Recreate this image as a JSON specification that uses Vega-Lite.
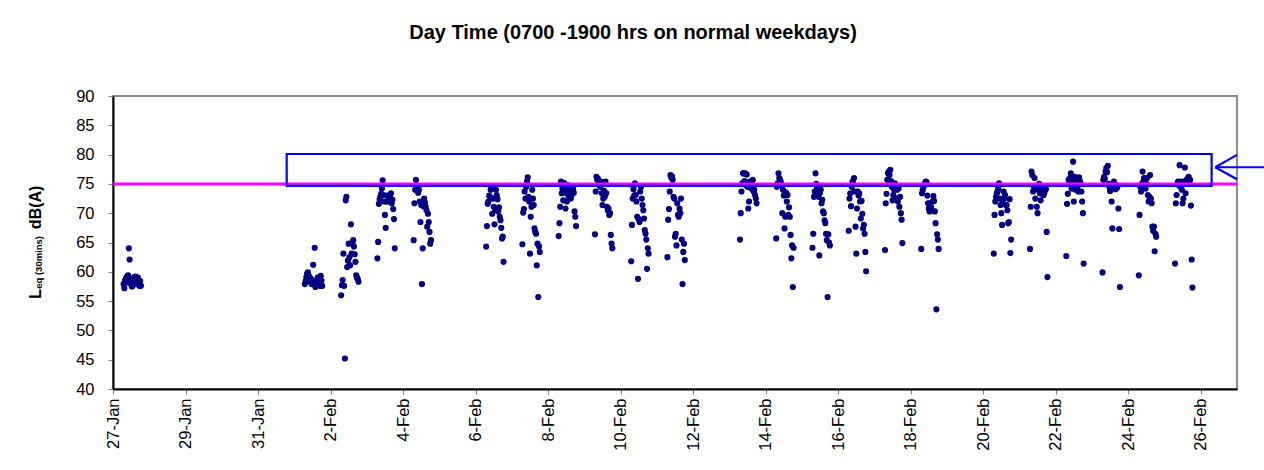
{
 "$schema": "https://vega.github.io/schema/vega-lite/v6.json",
 "width": 1124,
 "height": 293,
 "autosize": {"type": "none"},
 "padding": {"left": 113, "top": 96, "right": 27, "bottom": 81},
 "background": "white",
 "title": {"text": "Day Time (0700 -1900 hrs on normal weekdays)", "font": "Liberation Sans", "fontSize": 20, "fontWeight": "bold", "color": "black", "anchor": "middle", "dx": -42, "offset": 45},
 "config": {"view": {"stroke": "#8c8c8c", "strokeWidth": 2}, "font": "Liberation Sans"},
 "datasets": {
  "leq": [
{"t":"2006-01-27T07:00","v":57.9},{"t":"2006-01-27T07:30","v":57.2},{"t":"2006-01-27T08:00","v":58.5},{"t":"2006-01-27T08:30","v":58.8},{"t":"2006-01-27T09:00","v":59.1},{"t":"2006-01-27T09:30","v":58.2},{"t":"2006-01-27T10:00","v":59.4},{"t":"2006-01-27T10:30","v":64.0},{"t":"2006-01-27T11:00","v":62.1},{"t":"2006-01-27T11:30","v":58.0},{"t":"2006-01-27T12:00","v":58.7},{"t":"2006-01-27T12:30","v":57.5},{"t":"2006-01-27T13:00","v":57.6},{"t":"2006-01-27T13:30","v":58.3},{"t":"2006-01-27T14:00","v":59.1},{"t":"2006-01-27T14:30","v":58.0},{"t":"2006-01-27T15:00","v":59.2},{"t":"2006-01-27T15:30","v":57.9},{"t":"2006-01-27T16:00","v":58.5},{"t":"2006-01-27T16:30","v":59.0},{"t":"2006-01-27T17:00","v":58.1},{"t":"2006-01-27T17:30","v":57.6},{"t":"2006-01-27T18:00","v":58.4},{"t":"2006-01-27T18:30","v":57.6},
{"t":"2006-02-01T07:00","v":57.9},{"t":"2006-02-01T07:30","v":58.4},{"t":"2006-02-01T08:00","v":59.1},{"t":"2006-02-01T08:30","v":59.7},{"t":"2006-02-01T09:00","v":59.9},{"t":"2006-02-01T09:30","v":58.6},{"t":"2006-02-01T10:00","v":59.2},{"t":"2006-02-01T10:30","v":58.3},{"t":"2006-02-01T11:00","v":58.8},{"t":"2006-02-01T11:30","v":57.9},{"t":"2006-02-01T12:00","v":58.5},{"t":"2006-02-01T12:30","v":61.2},{"t":"2006-02-01T13:00","v":58.1},{"t":"2006-02-01T13:30","v":64.1},{"t":"2006-02-01T14:00","v":57.4},{"t":"2006-02-01T14:30","v":57.8},{"t":"2006-02-01T15:00","v":58.5},{"t":"2006-02-01T15:30","v":59.0},{"t":"2006-02-01T16:00","v":58.0},{"t":"2006-02-01T16:30","v":58.4},{"t":"2006-02-01T17:00","v":57.6},{"t":"2006-02-01T17:30","v":59.3},{"t":"2006-02-01T18:00","v":58.5},{"t":"2006-02-01T18:30","v":57.6},
{"t":"2006-02-02T07:00","v":56.0},{"t":"2006-02-02T07:30","v":57.7},{"t":"2006-02-02T08:00","v":58.6},{"t":"2006-02-02T08:30","v":63.1},{"t":"2006-02-02T09:00","v":57.6},{"t":"2006-02-02T09:30","v":45.2},{"t":"2006-02-02T10:00","v":72.2},{"t":"2006-02-02T10:30","v":72.8},{"t":"2006-02-02T11:00","v":60.8},{"t":"2006-02-02T11:30","v":61.9},{"t":"2006-02-02T12:00","v":64.8},{"t":"2006-02-02T12:30","v":62.5},{"t":"2006-02-02T13:00","v":61.1},{"t":"2006-02-02T13:30","v":68.1},{"t":"2006-02-02T14:00","v":63.1},{"t":"2006-02-02T14:30","v":64.8},{"t":"2006-02-02T15:00","v":65.4},{"t":"2006-02-02T15:30","v":64.3},{"t":"2006-02-02T16:00","v":63.0},{"t":"2006-02-02T16:30","v":61.7},{"t":"2006-02-02T17:00","v":59.4},{"t":"2006-02-02T17:30","v":59.0},{"t":"2006-02-02T18:00","v":58.8},{"t":"2006-02-02T18:30","v":58.3},
{"t":"2006-02-03T07:00","v":62.3},{"t":"2006-02-03T07:30","v":65.1},{"t":"2006-02-03T08:00","v":71.6},{"t":"2006-02-03T08:30","v":72.4},{"t":"2006-02-03T09:00","v":72.8},{"t":"2006-02-03T09:30","v":73.3},{"t":"2006-02-03T10:00","v":74.2},{"t":"2006-02-03T10:30","v":75.6},{"t":"2006-02-03T11:00","v":73.1},{"t":"2006-02-03T11:30","v":72.0},{"t":"2006-02-03T12:00","v":69.7},{"t":"2006-02-03T12:30","v":67.5},{"t":"2006-02-03T13:00","v":72.0},{"t":"2006-02-03T13:30","v":73.0},{"t":"2006-02-03T14:00","v":72.0},{"t":"2006-02-03T14:30","v":73.0},{"t":"2006-02-03T15:00","v":72.5},{"t":"2006-02-03T15:30","v":72.8},{"t":"2006-02-03T16:00","v":73.4},{"t":"2006-02-03T16:30","v":71.7},{"t":"2006-02-03T17:00","v":72.3},{"t":"2006-02-03T17:30","v":70.7},{"t":"2006-02-03T18:00","v":69.0},{"t":"2006-02-03T18:30","v":64.0},
{"t":"2006-02-04T07:00","v":65.4},{"t":"2006-02-04T07:30","v":71.7},{"t":"2006-02-04T08:00","v":74.0},{"t":"2006-02-04T08:30","v":75.7},{"t":"2006-02-04T09:00","v":74.8},{"t":"2006-02-04T09:30","v":74.2},{"t":"2006-02-04T10:00","v":73.5},{"t":"2006-02-04T10:30","v":74.0},{"t":"2006-02-04T11:00","v":72.0},{"t":"2006-02-04T11:30","v":68.5},{"t":"2006-02-04T12:00","v":71.4},{"t":"2006-02-04T12:30","v":57.9},{"t":"2006-02-04T13:00","v":64.0},{"t":"2006-02-04T13:30","v":71.2},{"t":"2006-02-04T14:00","v":72.5},{"t":"2006-02-04T14:30","v":71.8},{"t":"2006-02-04T15:00","v":71.1},{"t":"2006-02-04T15:30","v":70.5},{"t":"2006-02-04T16:00","v":67.7},{"t":"2006-02-04T16:30","v":69.9},{"t":"2006-02-04T17:00","v":68.5},{"t":"2006-02-04T17:30","v":66.8},{"t":"2006-02-04T18:00","v":64.8},{"t":"2006-02-04T18:30","v":65.4},
{"t":"2006-02-06T07:00","v":64.3},{"t":"2006-02-06T07:30","v":67.8},{"t":"2006-02-06T08:00","v":71.6},{"t":"2006-02-06T08:30","v":72.0},{"t":"2006-02-06T09:00","v":73.0},{"t":"2006-02-06T09:30","v":72.8},{"t":"2006-02-06T10:00","v":74.0},{"t":"2006-02-06T10:30","v":74.2},{"t":"2006-02-06T11:00","v":69.9},{"t":"2006-02-06T11:30","v":72.5},{"t":"2006-02-06T12:00","v":71.1},{"t":"2006-02-06T12:30","v":68.1},{"t":"2006-02-06T13:00","v":70.5},{"t":"2006-02-06T13:30","v":74.0},{"t":"2006-02-06T14:00","v":73.1},{"t":"2006-02-06T14:30","v":72.4},{"t":"2006-02-06T15:00","v":70.3},{"t":"2006-02-06T15:30","v":71.0},{"t":"2006-02-06T16:00","v":69.4},{"t":"2006-02-06T16:30","v":68.8},{"t":"2006-02-06T17:00","v":67.5},{"t":"2006-02-06T17:30","v":65.7},{"t":"2006-02-06T18:00","v":66.0},{"t":"2006-02-06T18:30","v":61.7},
{"t":"2006-02-07T07:00","v":64.7},{"t":"2006-02-07T07:30","v":70.1},{"t":"2006-02-07T08:00","v":70.7},{"t":"2006-02-07T08:30","v":73.7},{"t":"2006-02-07T09:00","v":72.5},{"t":"2006-02-07T09:30","v":74.5},{"t":"2006-02-07T10:00","v":75.4},{"t":"2006-02-07T10:30","v":76.1},{"t":"2006-02-07T11:00","v":72.8},{"t":"2006-02-07T11:30","v":72.0},{"t":"2006-02-07T12:00","v":63.1},{"t":"2006-02-07T12:30","v":69.4},{"t":"2006-02-07T13:00","v":71.1},{"t":"2006-02-07T13:30","v":74.0},{"t":"2006-02-07T14:00","v":72.5},{"t":"2006-02-07T14:30","v":71.4},{"t":"2006-02-07T15:00","v":67.4},{"t":"2006-02-07T15:30","v":66.8},{"t":"2006-02-07T16:00","v":66.5},{"t":"2006-02-07T16:30","v":61.1},{"t":"2006-02-07T17:00","v":64.8},{"t":"2006-02-07T17:30","v":55.7},{"t":"2006-02-07T18:00","v":64.3},{"t":"2006-02-07T18:30","v":63.4},
{"t":"2006-02-08T07:00","v":66.1},{"t":"2006-02-08T07:30","v":68.3},{"t":"2006-02-08T08:00","v":71.1},{"t":"2006-02-08T08:30","v":75.4},{"t":"2006-02-08T09:00","v":73.4},{"t":"2006-02-08T09:30","v":74.2},{"t":"2006-02-08T10:00","v":72.2},{"t":"2006-02-08T10:30","v":75.2},{"t":"2006-02-08T11:00","v":73.5},{"t":"2006-02-08T11:30","v":70.8},{"t":"2006-02-08T12:00","v":74.0},{"t":"2006-02-08T12:30","v":72.0},{"t":"2006-02-08T13:00","v":74.8},{"t":"2006-02-08T13:30","v":72.8},{"t":"2006-02-08T14:00","v":73.8},{"t":"2006-02-08T14:30","v":73.4},{"t":"2006-02-08T15:00","v":72.5},{"t":"2006-02-08T15:30","v":73.0},{"t":"2006-02-08T16:00","v":74.0},{"t":"2006-02-08T16:30","v":74.2},{"t":"2006-02-08T17:00","v":73.5},{"t":"2006-02-08T17:30","v":70.3},{"t":"2006-02-08T18:00","v":69.4},{"t":"2006-02-08T18:30","v":67.8},
{"t":"2006-02-09T07:00","v":66.4},{"t":"2006-02-09T07:30","v":73.7},{"t":"2006-02-09T08:00","v":76.2},{"t":"2006-02-09T08:30","v":75.7},{"t":"2006-02-09T09:00","v":75.9},{"t":"2006-02-09T09:30","v":75.1},{"t":"2006-02-09T10:00","v":74.8},{"t":"2006-02-09T10:30","v":74.5},{"t":"2006-02-09T11:00","v":75.4},{"t":"2006-02-09T11:30","v":73.4},{"t":"2006-02-09T12:00","v":71.4},{"t":"2006-02-09T12:30","v":72.5},{"t":"2006-02-09T13:00","v":73.8},{"t":"2006-02-09T13:30","v":72.8},{"t":"2006-02-09T14:00","v":75.4},{"t":"2006-02-09T14:30","v":73.4},{"t":"2006-02-09T15:00","v":71.1},{"t":"2006-02-09T15:30","v":70.5},{"t":"2006-02-09T16:00","v":70.8},{"t":"2006-02-09T16:30","v":69.7},{"t":"2006-02-09T17:00","v":70.0},{"t":"2006-02-09T17:30","v":66.3},{"t":"2006-02-09T18:00","v":64.8},{"t":"2006-02-09T18:30","v":64.0},
{"t":"2006-02-10T07:00","v":61.8},{"t":"2006-02-10T07:30","v":68.0},{"t":"2006-02-10T08:00","v":72.5},{"t":"2006-02-10T08:30","v":74.1},{"t":"2006-02-10T09:00","v":73.0},{"t":"2006-02-10T09:30","v":75.1},{"t":"2006-02-10T10:00","v":73.1},{"t":"2006-02-10T10:30","v":72.0},{"t":"2006-02-10T11:00","v":69.4},{"t":"2006-02-10T11:30","v":58.8},{"t":"2006-02-10T12:00","v":69.0},{"t":"2006-02-10T12:30","v":68.5},{"t":"2006-02-10T13:00","v":73.7},{"t":"2006-02-10T13:30","v":74.5},{"t":"2006-02-10T14:00","v":72.5},{"t":"2006-02-10T14:30","v":71.4},{"t":"2006-02-10T15:00","v":70.5},{"t":"2006-02-10T15:30","v":69.1},{"t":"2006-02-10T16:00","v":67.1},{"t":"2006-02-10T16:30","v":66.5},{"t":"2006-02-10T17:00","v":65.5},{"t":"2006-02-10T17:30","v":60.5},{"t":"2006-02-10T18:00","v":64.0},{"t":"2006-02-10T18:30","v":63.1},
{"t":"2006-02-11T07:00","v":62.5},{"t":"2006-02-11T07:30","v":68.9},{"t":"2006-02-11T08:00","v":70.7},{"t":"2006-02-11T08:30","v":73.7},{"t":"2006-02-11T09:00","v":76.5},{"t":"2006-02-11T09:30","v":76.1},{"t":"2006-02-11T10:00","v":76.3},{"t":"2006-02-11T10:30","v":75.7},{"t":"2006-02-11T11:00","v":72.8},{"t":"2006-02-11T11:30","v":72.5},{"t":"2006-02-11T12:00","v":66.0},{"t":"2006-02-11T12:30","v":66.5},{"t":"2006-02-11T13:00","v":64.5},{"t":"2006-02-11T13:30","v":71.7},{"t":"2006-02-11T14:00","v":69.7},{"t":"2006-02-11T14:30","v":69.4},{"t":"2006-02-11T15:00","v":70.8},{"t":"2006-02-11T15:30","v":70.0},{"t":"2006-02-11T16:00","v":72.5},{"t":"2006-02-11T16:30","v":65.5},{"t":"2006-02-11T17:00","v":57.9},{"t":"2006-02-11T17:30","v":63.4},{"t":"2006-02-11T18:00","v":64.8},{"t":"2006-02-11T18:30","v":62.0},
{"t":"2006-02-13T07:00","v":65.5},{"t":"2006-02-13T07:30","v":70.0},{"t":"2006-02-13T08:00","v":73.7},{"t":"2006-02-13T08:30","v":75.1},{"t":"2006-02-13T09:00","v":76.8},{"t":"2006-02-13T09:30","v":76.8},{"t":"2006-02-13T10:00","v":75.5},{"t":"2006-02-13T10:30","v":76.8},{"t":"2006-02-13T11:00","v":74.8},{"t":"2006-02-13T11:30","v":76.6},{"t":"2006-02-13T12:00","v":74.5},{"t":"2006-02-13T12:30","v":70.8},{"t":"2006-02-13T13:00","v":72.0},{"t":"2006-02-13T13:30","v":75.4},{"t":"2006-02-13T14:00","v":74.5},{"t":"2006-02-13T14:30","v":74.2},{"t":"2006-02-13T15:00","v":75.0},{"t":"2006-02-13T15:30","v":75.7},{"t":"2006-02-13T16:00","v":73.7},{"t":"2006-02-13T16:30","v":74.0},{"t":"2006-02-13T17:00","v":73.1},{"t":"2006-02-13T17:30","v":72.5},{"t":"2006-02-13T18:00","v":71.7},
{"t":"2006-02-14T07:00","v":65.7},{"t":"2006-02-14T07:30","v":74.5},{"t":"2006-02-14T08:00","v":75.1},{"t":"2006-02-14T08:30","v":76.8},{"t":"2006-02-14T09:00","v":76.0},{"t":"2006-02-14T09:30","v":75.7},{"t":"2006-02-14T10:00","v":75.4},{"t":"2006-02-14T10:30","v":74.8},{"t":"2006-02-14T11:00","v":70.0},{"t":"2006-02-14T11:30","v":74.0},{"t":"2006-02-14T12:00","v":73.0},{"t":"2006-02-14T12:30","v":67.4},{"t":"2006-02-14T13:00","v":69.4},{"t":"2006-02-14T13:30","v":73.5},{"t":"2006-02-14T14:00","v":72.0},{"t":"2006-02-14T14:30","v":73.1},{"t":"2006-02-14T15:00","v":69.7},{"t":"2006-02-14T15:30","v":71.0},{"t":"2006-02-14T16:00","v":69.4},{"t":"2006-02-14T16:30","v":66.3},{"t":"2006-02-14T17:00","v":62.3},{"t":"2006-02-14T17:30","v":64.5},{"t":"2006-02-14T18:00","v":57.4},{"t":"2006-02-14T18:30","v":64.1},
{"t":"2006-02-15T07:00","v":64.1},{"t":"2006-02-15T07:30","v":66.5},{"t":"2006-02-15T08:00","v":72.8},{"t":"2006-02-15T08:30","v":73.7},{"t":"2006-02-15T09:00","v":76.8},{"t":"2006-02-15T09:30","v":75.0},{"t":"2006-02-15T10:00","v":74.2},{"t":"2006-02-15T10:30","v":73.1},{"t":"2006-02-15T11:00","v":72.8},{"t":"2006-02-15T11:30","v":62.8},{"t":"2006-02-15T12:00","v":73.5},{"t":"2006-02-15T12:30","v":74.0},{"t":"2006-02-15T13:00","v":71.7},{"t":"2006-02-15T13:30","v":72.3},{"t":"2006-02-15T14:00","v":70.3},{"t":"2006-02-15T14:30","v":70.0},{"t":"2006-02-15T15:00","v":68.8},{"t":"2006-02-15T15:30","v":68.3},{"t":"2006-02-15T16:00","v":66.5},{"t":"2006-02-15T16:30","v":65.4},{"t":"2006-02-15T17:00","v":55.7},{"t":"2006-02-15T17:30","v":66.4},{"t":"2006-02-15T18:00","v":65.0},{"t":"2006-02-15T18:30","v":64.5},
{"t":"2006-02-16T07:00","v":67.0},{"t":"2006-02-16T07:30","v":72.5},{"t":"2006-02-16T08:00","v":73.4},{"t":"2006-02-16T08:30","v":71.2},{"t":"2006-02-16T09:00","v":74.5},{"t":"2006-02-16T09:30","v":75.4},{"t":"2006-02-16T10:00","v":75.0},{"t":"2006-02-16T10:30","v":76.0},{"t":"2006-02-16T11:00","v":73.7},{"t":"2006-02-16T11:30","v":67.7},{"t":"2006-02-16T12:00","v":63.1},{"t":"2006-02-16T12:30","v":70.8},{"t":"2006-02-16T13:00","v":73.7},{"t":"2006-02-16T13:30","v":73.0},{"t":"2006-02-16T14:00","v":73.4},{"t":"2006-02-16T14:30","v":72.0},{"t":"2006-02-16T15:00","v":69.1},{"t":"2006-02-16T15:30","v":72.1},{"t":"2006-02-16T16:00","v":69.9},{"t":"2006-02-16T16:30","v":67.4},{"t":"2006-02-16T17:00","v":68.0},{"t":"2006-02-16T17:30","v":66.5},{"t":"2006-02-16T18:00","v":63.4},{"t":"2006-02-16T18:30","v":60.1},
{"t":"2006-02-17T07:00","v":63.7},{"t":"2006-02-17T07:30","v":71.7},{"t":"2006-02-17T08:00","v":73.3},{"t":"2006-02-17T08:30","v":75.7},{"t":"2006-02-17T09:00","v":76.8},{"t":"2006-02-17T09:30","v":77.1},{"t":"2006-02-17T10:00","v":76.5},{"t":"2006-02-17T10:30","v":77.4},{"t":"2006-02-17T11:00","v":75.5},{"t":"2006-02-17T11:30","v":74.5},{"t":"2006-02-17T12:00","v":72.2},{"t":"2006-02-17T12:30","v":73.1},{"t":"2006-02-17T13:00","v":74.0},{"t":"2006-02-17T13:30","v":75.1},{"t":"2006-02-17T14:00","v":74.2},{"t":"2006-02-17T14:30","v":72.5},{"t":"2006-02-17T15:00","v":74.0},{"t":"2006-02-17T15:30","v":72.0},{"t":"2006-02-17T16:00","v":74.2},{"t":"2006-02-17T16:30","v":71.1},{"t":"2006-02-17T17:00","v":72.8},{"t":"2006-02-17T17:30","v":70.0},{"t":"2006-02-17T18:00","v":68.9},{"t":"2006-02-17T18:30","v":64.9},
{"t":"2006-02-18T07:00","v":63.9},{"t":"2006-02-18T07:30","v":73.4},{"t":"2006-02-18T08:00","v":74.0},{"t":"2006-02-18T08:30","v":74.5},{"t":"2006-02-18T09:00","v":74.8},{"t":"2006-02-18T09:30","v":75.1},{"t":"2006-02-18T10:00","v":75.4},{"t":"2006-02-18T10:30","v":75.3},{"t":"2006-02-18T11:00","v":73.0},{"t":"2006-02-18T11:30","v":71.7},{"t":"2006-02-18T12:00","v":70.8},{"t":"2006-02-18T12:30","v":70.3},{"t":"2006-02-18T13:00","v":71.7},{"t":"2006-02-18T13:30","v":71.0},{"t":"2006-02-18T14:00","v":70.5},{"t":"2006-02-18T14:30","v":72.0},{"t":"2006-02-18T15:00","v":72.9},{"t":"2006-02-18T15:30","v":72.1},{"t":"2006-02-18T16:00","v":70.3},{"t":"2006-02-18T16:30","v":68.3},{"t":"2006-02-18T17:00","v":53.6},{"t":"2006-02-18T17:30","v":66.4},{"t":"2006-02-18T18:00","v":65.5},{"t":"2006-02-18T18:30","v":63.9},
{"t":"2006-02-20T07:00","v":63.1},{"t":"2006-02-20T07:30","v":69.7},{"t":"2006-02-20T08:00","v":72.0},{"t":"2006-02-20T08:30","v":72.8},{"t":"2006-02-20T09:00","v":73.4},{"t":"2006-02-20T09:30","v":73.7},{"t":"2006-02-20T10:00","v":74.2},{"t":"2006-02-20T10:30","v":75.1},{"t":"2006-02-20T11:00","v":72.5},{"t":"2006-02-20T11:30","v":71.4},{"t":"2006-02-20T12:00","v":70.0},{"t":"2006-02-20T12:30","v":68.0},{"t":"2006-02-20T13:00","v":71.7},{"t":"2006-02-20T13:30","v":73.7},{"t":"2006-02-20T14:00","v":72.5},{"t":"2006-02-20T14:30","v":73.1},{"t":"2006-02-20T15:00","v":71.4},{"t":"2006-02-20T15:30","v":71.4},{"t":"2006-02-20T16:00","v":70.5},{"t":"2006-02-20T16:30","v":68.3},{"t":"2006-02-20T17:00","v":68.5},{"t":"2006-02-20T17:30","v":72.4},{"t":"2006-02-20T18:00","v":63.2},{"t":"2006-02-20T18:30","v":65.5},
{"t":"2006-02-21T07:00","v":63.9},{"t":"2006-02-21T07:30","v":71.1},{"t":"2006-02-21T08:00","v":77.1},{"t":"2006-02-21T08:30","v":76.5},{"t":"2006-02-21T09:00","v":73.7},{"t":"2006-02-21T09:30","v":74.5},{"t":"2006-02-21T10:00","v":76.0},{"t":"2006-02-21T10:30","v":72.5},{"t":"2006-02-21T11:00","v":74.6},{"t":"2006-02-21T11:30","v":71.1},{"t":"2006-02-21T12:00","v":70.0},{"t":"2006-02-21T12:30","v":74.0},{"t":"2006-02-21T13:00","v":75.0},{"t":"2006-02-21T13:30","v":73.4},{"t":"2006-02-21T14:00","v":72.2},{"t":"2006-02-21T14:30","v":73.4},{"t":"2006-02-21T15:00","v":74.5},{"t":"2006-02-21T15:30","v":74.2},{"t":"2006-02-21T16:00","v":73.1},{"t":"2006-02-21T16:30","v":73.5},{"t":"2006-02-21T17:00","v":74.0},{"t":"2006-02-21T17:30","v":74.1},{"t":"2006-02-21T18:00","v":66.8},{"t":"2006-02-21T18:30","v":59.1},
{"t":"2006-02-22T07:00","v":62.7},{"t":"2006-02-22T07:30","v":71.6},{"t":"2006-02-22T08:00","v":73.3},{"t":"2006-02-22T08:30","v":75.7},{"t":"2006-02-22T09:00","v":75.0},{"t":"2006-02-22T09:30","v":76.0},{"t":"2006-02-22T10:00","v":76.8},{"t":"2006-02-22T10:30","v":74.2},{"t":"2006-02-22T11:00","v":75.5},{"t":"2006-02-22T11:30","v":78.8},{"t":"2006-02-22T12:00","v":72.0},{"t":"2006-02-22T12:30","v":76.2},{"t":"2006-02-22T13:00","v":74.0},{"t":"2006-02-22T13:30","v":74.8},{"t":"2006-02-22T14:00","v":75.7},{"t":"2006-02-22T14:30","v":74.5},{"t":"2006-02-22T15:00","v":73.7},{"t":"2006-02-22T15:30","v":76.1},{"t":"2006-02-22T16:00","v":75.5},{"t":"2006-02-22T16:30","v":75.0},{"t":"2006-02-22T17:00","v":73.7},{"t":"2006-02-22T17:30","v":72.0},{"t":"2006-02-22T18:00","v":70.0},{"t":"2006-02-22T18:30","v":61.4},
{"t":"2006-02-23T07:00","v":59.9},{"t":"2006-02-23T07:30","v":75.7},{"t":"2006-02-23T08:00","v":76.2},{"t":"2006-02-23T08:30","v":75.9},{"t":"2006-02-23T09:00","v":77.1},{"t":"2006-02-23T09:30","v":77.7},{"t":"2006-02-23T10:00","v":77.0},{"t":"2006-02-23T10:30","v":78.1},{"t":"2006-02-23T11:00","v":75.0},{"t":"2006-02-23T11:30","v":74.5},{"t":"2006-02-23T12:00","v":73.8},{"t":"2006-02-23T12:30","v":74.2},{"t":"2006-02-23T13:00","v":72.0},{"t":"2006-02-23T13:30","v":67.4},{"t":"2006-02-23T14:00","v":75.1},{"t":"2006-02-23T14:30","v":75.4},{"t":"2006-02-23T15:00","v":74.5},{"t":"2006-02-23T15:30","v":74.1},{"t":"2006-02-23T16:00","v":74.8},{"t":"2006-02-23T16:30","v":74.3},{"t":"2006-02-23T17:00","v":74.6},{"t":"2006-02-23T17:30","v":70.8},{"t":"2006-02-23T18:00","v":67.3},{"t":"2006-02-23T18:30","v":57.4},
{"t":"2006-02-24T07:00","v":59.4},{"t":"2006-02-24T07:30","v":69.7},{"t":"2006-02-24T08:00","v":74.5},{"t":"2006-02-24T08:30","v":73.7},{"t":"2006-02-24T09:00","v":75.0},{"t":"2006-02-24T09:30","v":77.1},{"t":"2006-02-24T10:00","v":75.4},{"t":"2006-02-24T10:30","v":76.0},{"t":"2006-02-24T11:00","v":75.7},{"t":"2006-02-24T11:30","v":74.2},{"t":"2006-02-24T12:00","v":75.0},{"t":"2006-02-24T12:30","v":76.0},{"t":"2006-02-24T13:00","v":73.1},{"t":"2006-02-24T13:30","v":72.0},{"t":"2006-02-24T14:00","v":72.8},{"t":"2006-02-24T14:30","v":76.5},{"t":"2006-02-24T15:00","v":72.5},{"t":"2006-02-24T15:30","v":71.7},{"t":"2006-02-24T16:00","v":67.7},{"t":"2006-02-24T16:30","v":67.0},{"t":"2006-02-24T17:00","v":67.7},{"t":"2006-02-24T17:30","v":63.5},{"t":"2006-02-24T18:00","v":66.5},{"t":"2006-02-24T18:30","v":66.0},
{"t":"2006-02-25T07:00","v":61.4},{"t":"2006-02-25T07:30","v":71.7},{"t":"2006-02-25T08:00","v":73.1},{"t":"2006-02-25T08:30","v":75.1},{"t":"2006-02-25T09:00","v":75.4},{"t":"2006-02-25T09:30","v":74.8},{"t":"2006-02-25T10:00","v":78.2},{"t":"2006-02-25T10:30","v":74.5},{"t":"2006-02-25T11:00","v":75.4},{"t":"2006-02-25T11:30","v":74.0},{"t":"2006-02-25T12:00","v":71.7},{"t":"2006-02-25T12:30","v":72.5},{"t":"2006-02-25T13:00","v":75.4},{"t":"2006-02-25T13:30","v":77.8},{"t":"2006-02-25T14:00","v":73.4},{"t":"2006-02-25T14:30","v":75.7},{"t":"2006-02-25T15:00","v":75.2},{"t":"2006-02-25T15:30","v":76.0},{"t":"2006-02-25T16:00","v":76.2},{"t":"2006-02-25T16:30","v":75.0},{"t":"2006-02-25T17:00","v":75.7},{"t":"2006-02-25T17:30","v":71.3},{"t":"2006-02-25T18:00","v":62.1},{"t":"2006-02-25T18:30","v":57.3}
  ],
  "one": [{}]
 },
 "layer": [
  {
   "data": {"name": "leq"},
   "mark": {"type": "circle", "color": "#000080", "size": 38, "opacity": 1},
   "encoding": {
    "x": {"field": "t", "type": "temporal",
     "scale": {"domain": [{"year": 2006, "month": 1, "date": 27}, {"year": 2006, "month": 2, "date": 27}]},
     "axis": {"title": null, "grid": false, "format": "%-d-%b", "labelAngle": 270, "labelFont": "Liberation Sans", "labelFontSize": 16.5, "labelColor": "black", "labelPadding": 4, "labelFlush": false, "labelOverlap": false, "tickSize": 5, "tickColor": "#808080", "domainColor": "black", "domainWidth": 2,
      "values": [{"year": 2006, "month": 1, "date": 27}, {"year": 2006, "month": 1, "date": 29}, {"year": 2006, "month": 1, "date": 31}, {"year": 2006, "month": 2, "date": 2}, {"year": 2006, "month": 2, "date": 4}, {"year": 2006, "month": 2, "date": 6}, {"year": 2006, "month": 2, "date": 8}, {"year": 2006, "month": 2, "date": 10}, {"year": 2006, "month": 2, "date": 12}, {"year": 2006, "month": 2, "date": 14}, {"year": 2006, "month": 2, "date": 16}, {"year": 2006, "month": 2, "date": 18}, {"year": 2006, "month": 2, "date": 20}, {"year": 2006, "month": 2, "date": 22}, {"year": 2006, "month": 2, "date": 24}, {"year": 2006, "month": 2, "date": 26}]}},
    "y": {"field": "v", "type": "quantitative",
     "scale": {"domain": [40, 90]},
     "axis": {"title": null, "grid": false, "values": [40, 45, 50, 55, 60, 65, 70, 75, 80, 85, 90], "tickCount": 11, "labelFont": "Liberation Sans", "labelFontSize": 16.5, "labelColor": "black", "labelPadding": 14, "labelFlush": false, "labelOverlap": false, "labelSeparation": 0, "tickSize": 5, "tickColor": "#808080", "domainColor": "black", "domainWidth": 2}}
   }
  },
  {
   "data": {"name": "one"},
   "mark": {"type": "rule", "color": "#ff00ff", "strokeWidth": 3},
   "encoding": {"y": {"datum": 75, "type": "quantitative"}}
  },
  {
   "data": {"name": "one"},
   "mark": {"type": "rect", "fillOpacity": 0, "stroke": "#0000ff", "strokeWidth": 2.2},
   "encoding": {
    "x": {"datum": {"year": 2006, "month": 1, "date": 31, "hours": 18, "minutes": 58}, "type": "temporal"},
    "x2": {"datum": {"year": 2006, "month": 2, "date": 26, "hours": 7, "minutes": 12}},
    "y": {"datum": 74.65, "type": "quantitative"},
    "y2": {"datum": 80.1}
   }
  },
  {
   "data": {"name": "one"},
   "mark": {"type": "rule", "color": "#0000ff", "strokeWidth": 2.2},
   "encoding": {
    "x": {"datum": {"year": 2006, "month": 2, "date": 26, "hours": 9, "minutes": 36}, "type": "temporal"},
    "x2": {"datum": {"year": 2006, "month": 2, "date": 27, "hours": 20, "minutes": 0}},
    "y": {"datum": 77.84, "type": "quantitative"},
    "y2": {"datum": 77.84}
   }
  },
  {
   "data": {"name": "one"},
   "mark": {"type": "rule", "color": "#0000ff", "strokeWidth": 2.2},
   "encoding": {
    "x": {"datum": {"year": 2006, "month": 2, "date": 26, "hours": 9, "minutes": 36}, "type": "temporal"},
    "x2": {"datum": {"year": 2006, "month": 2, "date": 27, "hours": 0, "minutes": 0}},
    "y": {"datum": 77.84, "type": "quantitative"},
    "y2": {"datum": 79.95}
   }
  },
  {
   "data": {"name": "one"},
   "mark": {"type": "rule", "color": "#0000ff", "strokeWidth": 2.2},
   "encoding": {
    "x": {"datum": {"year": 2006, "month": 2, "date": 26, "hours": 9, "minutes": 36}, "type": "temporal"},
    "x2": {"datum": {"year": 2006, "month": 2, "date": 27, "hours": 0, "minutes": 0}},
    "y": {"datum": 77.84, "type": "quantitative"},
    "y2": {"datum": 75.79}
   }
  },
  {
   "data": {"name": "one"},
   "mark": {"type": "text", "text": "L", "angle": 270, "align": "left", "baseline": "middle", "font": "Liberation Sans", "fontWeight": "bold", "fontSize": 16, "color": "black"},
   "encoding": {
    "x": {"datum": {"year": 2006, "month": 1, "date": 24, "hours": 21, "minutes": 2}, "type": "temporal"},
    "y": {"datum": 55.38, "type": "quantitative"}
   }
  },
  {
   "data": {"name": "one"},
   "mark": {"type": "text", "text": "eq (30mins)", "angle": 270, "align": "left", "baseline": "middle", "font": "Liberation Sans", "fontWeight": "bold", "fontSize": 9.5, "color": "black"},
   "encoding": {
    "x": {"datum": {"year": 2006, "month": 1, "date": 24, "hours": 23, "minutes": 1}, "type": "temporal"},
    "y": {"datum": 57.1, "type": "quantitative"}
   }
  },
  {
   "data": {"name": "one"},
   "mark": {"type": "text", "text": "dB(A)", "angle": 270, "align": "left", "baseline": "middle", "font": "Liberation Sans", "fontWeight": "bold", "fontSize": 16, "color": "black"},
   "encoding": {
    "x": {"datum": {"year": 2006, "month": 1, "date": 24, "hours": 21, "minutes": 2}, "type": "temporal"},
    "y": {"datum": 67.28, "type": "quantitative"}
   }
  }
 ]
}
